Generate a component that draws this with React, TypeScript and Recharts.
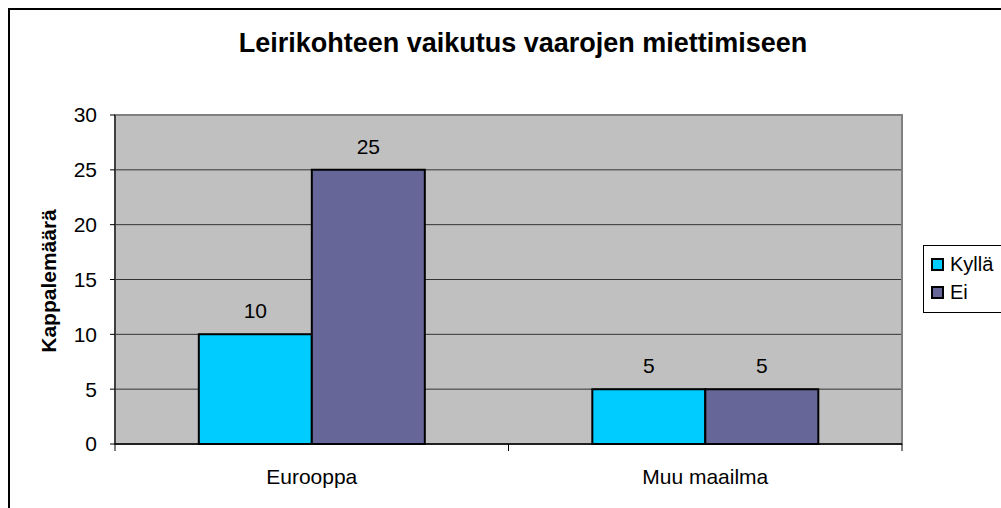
import { BarChart, Bar, XAxis, YAxis, CartesianGrid, Legend, LabelList, ReferenceArea } from 'recharts';

const CATEGORIES = ['Eurooppa', 'Muu maailma'];
const KYLLA = [10, 5];
const EI = [25, 5];
const Y_TICKS = [0, 5, 10, 15, 20, 25, 30];
const SERIES = [
  { key: 'kylla', name: 'Kyllä', color: '#00CCFF' },
  { key: 'ei', name: 'Ei', color: '#666699' },
];

const data = CATEGORIES.map((name, i) => ({ name, kylla: KYLLA[i], ei: EI[i] }));

const FONT = '"Liberation Sans", Arial, sans-serif';
const W = 993;
const H = 500;
const M = { top: 107, right: 99, bottom: 34, left: 47 };
const Y_AXIS_W = 60;
const PLOT_W = W - M.left - Y_AXIS_W - M.right;
const BAND = PLOT_W / CATEGORIES.length;

const XTick = ({ x, y, payload, index }) => (
  <g>
    <line x1={x - BAND / 2} x2={x - BAND / 2} y1={y} y2={y + 7} stroke="#000" />
    {index === CATEGORIES.length - 1 && (
      <line x1={x + BAND / 2} x2={x + BAND / 2} y1={y} y2={y + 7} stroke="#000" />
    )}
    <text x={x} y={y + 40} textAnchor="middle" fontSize={21} fontFamily={FONT} fill="#000">
      {payload.value}
    </text>
  </g>
);

// legend drawn from SERIES so the order stays Kyllä, Ei
const LegendBox = () => (
  <div style={{ border: '1px solid #000', background: '#fff', padding: '4px 0 6px 7px', fontFamily: FONT, fontSize: 20, textAlign: 'left' }}>
    {SERIES.map((s) => (
      <div key={s.key} style={{ display: 'flex', alignItems: 'center', height: 28 }}>
        <span style={{ width: 9, height: 9, border: '2px solid #000', background: s.color, marginRight: 6, flex: 'none' }} />
        <span style={{ color: '#000', whiteSpace: 'nowrap' }}>{s.name}</span>
      </div>
    ))}
  </div>
);

export default function App() {
  return (
    <div style={{ position: 'fixed', left: 8, top: 8, width: W, height: H, overflow: 'hidden', background: '#fff' }}>
      <div style={{ position: 'absolute', left: 0, top: 0, width: W + 20, height: H + 20, borderLeft: '2px solid #000', borderTop: '2px solid #000', boxSizing: 'border-box', pointerEvents: 'none', zIndex: 2 }} />
      <div style={{ position: 'absolute', left: 515, top: 19, transform: 'translateX(-50%)', whiteSpace: 'nowrap', fontFamily: FONT, fontWeight: 'bold', fontSize: 27, lineHeight: '32px', color: '#000' }}>
        Leirikohteen vaikutus vaarojen miettimiseen
      </div>
      <BarChart width={W} height={H} data={data} margin={M} barCategoryGap="21.3%" barGap={0}>
        <CartesianGrid vertical={false} fill="#C0C0C0" stroke="#333" strokeWidth={1} />
        <ReferenceArea y1={0} y2={30} fill="none" stroke="#808080" strokeWidth={2} ifOverflow="visible" />
        <XAxis dataKey="name" tick={<XTick />} tickLine={false} tickSize={0} tickMargin={0} axisLine={{ stroke: '#000', strokeWidth: 1.5 }} height={30} interval={0} />
        <YAxis
          domain={[0, 30]}
          ticks={Y_TICKS}
          width={Y_AXIS_W}
          tickSize={5}
          tickMargin={13}
          tickLine={{ stroke: '#000' }}
          axisLine={{ stroke: '#000' }}
          tick={{ fontSize: 21, fontFamily: FONT, fill: '#000' }}
          label={({ viewBox }) => (
            <text
              x={viewBox.x - 7}
              y={273}
              transform={`rotate(-90, ${viewBox.x - 7}, 273)`}
              textAnchor="middle"
              dominantBaseline="central"
              fontSize={21}
              fontWeight="bold"
              fontFamily={FONT}
              fill="#000"
            >
              Kappalemäärä
            </text>
          )}
        />
        <Legend
          layout="vertical"
          align="center"
          verticalAlign="middle"
          content={<LegendBox />}
          wrapperStyle={{ position: 'absolute', left: 915, top: 237, width: 110 }}
        />
        {SERIES.map((s) => (
          <Bar key={s.key} dataKey={s.key} name={s.name} fill={s.color} stroke="#000" strokeWidth={2} isAnimationActive={false}>
            <LabelList dataKey={s.key} position="top" offset={16} fontSize={21} fontFamily={FONT} fill="#000" />
          </Bar>
        ))}
      </BarChart>
    </div>
  );
}
